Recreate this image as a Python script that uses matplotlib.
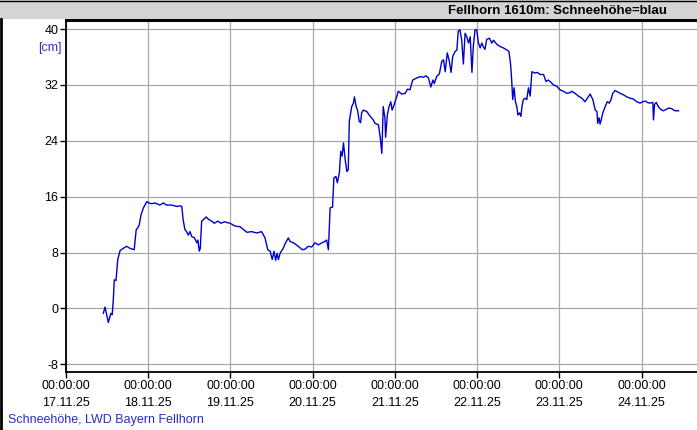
import datetime
import matplotlib
matplotlib.use('Agg')
import matplotlib.pyplot as plt
from matplotlib.patches import Rectangle
from matplotlib.lines import Line2D

plt.rcParams['font.family'] = ['Liberation Sans', 'DejaVu Sans']
plt.rcParams['axes.unicode_minus'] = False

# Schneehoehe Fellhorn, Stunden ab 17.11.25 00:00 und Wert in cm
start = datetime.datetime(2025, 11, 17)
hours = [10.9, 11.4, 12.35, 13.1, 13.5, 13.8, 14.1, 14.6, 15.1, 15.8, 16.7, 17.7, 18.7, 19.9,
         20.5, 20.9, 21.4, 21.9, 22.6, 23.6, 24.2, 25.0, 26.0, 27.4, 28.4, 29.4, 30.9, 32.3,
         33.3, 33.8, 34.2, 34.7, 35.2, 35.7, 36.2, 36.7, 37.5, 38.2, 38.5, 38.9, 39.2, 39.6,
         40.1, 40.9, 41.5, 42.5, 43.3, 44.3, 45.3, 46.2, 47.9, 49.3, 50.8, 51.8, 52.8, 54.2,
         55.7, 57.1, 58.1, 58.9, 59.6, 60.2, 60.7, 61.2, 61.6, 62.0, 62.5, 63.4, 64.1, 64.9,
         65.4, 66.4, 67.8, 69.0, 69.8, 70.7, 71.7, 72.7, 73.7, 74.7, 75.6, 76.1, 76.6, 77.1,
         77.8, 78.2, 78.8, 79.2, 79.8, 80.2, 80.6, 81.0, 81.5, 82.0, 82.4, 82.7, 83.4, 83.9,
         84.2, 84.7, 85.1, 85.6, 86.0, 86.3, 86.8, 87.8, 88.8, 89.7, 90.2, 91.2, 91.7, 92.2,
         92.6, 93.1, 93.3, 93.8, 94.3, 94.8, 95.2, 95.8, 96.4, 97.0, 98.0, 99.0, 99.7, 100.4,
         101.2, 102.4, 103.4, 104.3, 105.1, 105.8, 106.5, 107.1, 107.5, 108.2, 109.0, 109.7,
         110.2, 110.7, 111.3, 111.9, 112.4, 112.9, 113.6, 114.1, 114.5, 115.0, 115.5, 116.0,
         116.5, 117.0, 117.5, 118.0, 118.5, 118.9, 119.4, 119.9, 120.4, 120.9, 121.4, 121.8,
         122.3, 122.8, 123.6, 124.3, 124.8, 125.8, 126.7, 127.7, 128.7, 129.3, 129.8, 130.1,
         130.4, 130.8, 131.2, 131.6, 131.9, 132.4, 132.8, 133.1, 133.5, 134.0, 134.5, 135.0,
         135.5, 136.0, 136.9, 137.6, 138.4, 139.4, 140.1, 140.8, 141.5, 142.3, 143.3, 144.2,
         145.2, 146.2, 147.2, 147.6, 148.6, 149.6, 150.6, 151.5, 152.2, 153.0, 153.8, 154.5,
         155.0, 155.2, 155.6, 155.9, 156.3, 156.7, 157.4, 158.0, 158.6, 159.1, 159.6, 160.3,
         161.0, 161.8, 162.7, 163.7, 164.7, 165.6, 166.6, 167.6, 168.4, 169.1, 169.7, 170.5,
         171.3, 171.5, 171.8, 172.3, 172.9, 173.6, 174.4, 175.2, 175.9, 176.8, 177.8, 178.8]
snow = [-0.7, 0.2, -2.0, -0.7, -0.9, 1.2, 4.1, 4.0, 7.0, 8.3, 8.6, 8.9, 8.6, 8.4,
        11.3, 11.5, 12.0, 13.4, 14.4, 15.3, 15.1, 15.0, 15.1, 14.8, 15.1, 14.8, 14.8, 14.6,
        14.7, 14.6, 12.7, 11.3, 11.0, 10.5, 11.0, 10.3, 10.1, 9.4, 9.8, 8.2, 8.6, 12.5,
        12.7, 13.1, 12.8, 12.5, 12.2, 12.5, 12.2, 12.4, 12.2, 11.8, 11.7, 11.3, 10.9, 11.0,
        10.8, 11.0, 10.1, 8.4, 8.2, 7.0, 8.2, 6.9, 7.9, 7.0, 7.9, 8.6, 9.4, 10.1,
        9.6, 9.4, 8.9, 8.4, 8.5, 8.9, 8.8, 9.4, 9.1, 9.4, 9.6, 9.8, 8.4, 14.4,
        14.5, 18.7, 18.9, 18.0, 19.4, 22.5, 21.8, 23.7, 21.3, 19.6, 19.9, 26.8, 28.9, 29.4,
        30.3, 28.9, 28.4, 26.8, 26.6, 28.0, 28.4, 28.2, 27.5, 27.0, 26.5, 26.3, 24.6, 22.2,
        28.9, 27.3, 24.5, 27.7, 28.9, 29.6, 28.4, 29.2, 30.1, 31.1, 30.7, 30.8, 31.4, 31.3,
        32.7, 33.0, 33.2, 33.1, 33.3, 33.0, 31.7, 32.7, 32.2, 33.2, 33.6, 35.4,
        35.6, 33.9, 36.6, 35.4, 33.8, 36.1, 36.8, 37.0, 39.7, 39.9, 38.5, 35.0,
        39.4, 38.9, 38.0, 38.9, 33.8, 37.5, 39.9, 39.9, 38.0, 37.3, 38.0, 37.5,
        37.1, 38.5, 38.7, 38.0, 38.4, 37.8, 37.5, 37.3, 37.0, 36.8, 34.9, 32.7,
        29.9, 31.6, 29.6, 28.9, 27.7, 28.0, 27.5, 28.9, 29.9, 30.1, 29.9, 31.6,
        30.4, 33.9, 33.7, 33.8, 33.5, 33.5, 32.5, 32.7, 32.4, 32.0, 31.8, 31.3,
        31.1, 30.8, 30.9, 31.1, 30.8, 30.4, 30.1, 29.6, 30.1, 30.7, 29.9, 28.4,
        28.2, 26.5, 27.3, 26.4, 27.1, 28.0, 28.9, 29.6, 29.4, 29.9, 30.8, 31.2,
        31.0, 30.8, 30.6, 30.3, 30.1, 30.0, 29.6, 29.4, 29.6, 29.7, 29.5, 29.4,
        29.5, 27.0, 29.2, 29.5, 28.9, 28.5, 28.3, 28.5, 28.7, 28.6, 28.3, 28.3]
y_ticks = [-8, 0, 8, 16, 24, 32, 40]
day_ticks = [start + datetime.timedelta(days=d) for d in range(8)]
day_labels = [d.strftime('%H:%M:%S\n%d.%m.%y') for d in day_ticks]

W, H = 697, 430
times = [start + datetime.timedelta(hours=h) for h in hours]

fig = plt.figure(figsize=(W / 100, H / 100), dpi=100)
fig.patch.set_facecolor('white')

# graue Titelleiste
fig.patches.append(Rectangle((0, 1 - 19 / H), 1, 19 / H, transform=fig.transFigure,
                             facecolor='#d4d4d4', edgecolor='none', zorder=0))
fig.lines.append(Line2D([0.5 / W, 0.5 / W], [0, 1 - 19 / H], transform=fig.transFigure,
                        color='black', lw=2))
fig.lines.append(Line2D([0, 1], [1 - 0.5 / H, 1 - 0.5 / H], transform=fig.transFigure,
                        color='black', lw=1))
fig.text(667 / W, 1 - 11.5 / H, 'Fellhorn 1610m: Schneehöhe=blau', ha='right', va='center',
         fontsize=9.5, fontweight='bold', color='black')

ax = fig.add_axes([66 / W, 1 - 372 / H, 1 - 66 / W, (372 - 20) / H])
ax.plot(times, snow, color='#0000cc', lw=1.0)

ax.set_xlim(start, start + datetime.timedelta(hours=184.2))
ax.set_ylim(-9.1, 41.3)
ax.set_yticks(y_ticks)
ax.set_xticks(day_ticks)
ax.set_xticklabels(day_labels)
for lbl in ax.get_xticklabels():
    lbl.set_linespacing(1.55)
ax.grid(True, color='#a8a8a8', lw=0.9)
ax.tick_params(axis='both', direction='out', length=4, width=1, labelsize=9, colors='black', pad=1.5)

for s in ['left', 'bottom']:
    ax.spines[s].set_linewidth(1.3)
ax.spines['top'].set_linewidth(2.2)
ax.spines['right'].set_visible(False)

fig.text(62 / W, 1 - 47.5 / H, '[cm]', ha='right', va='center', fontsize=9, color='#3333bb')
fig.text(8 / W, 1 - 420 / H, 'Schneehöhe, LWD Bayern Fellhorn', ha='left', va='center',
         fontsize=9, color='#2a2ac8')

fig.savefig('out.png', dpi=100)
